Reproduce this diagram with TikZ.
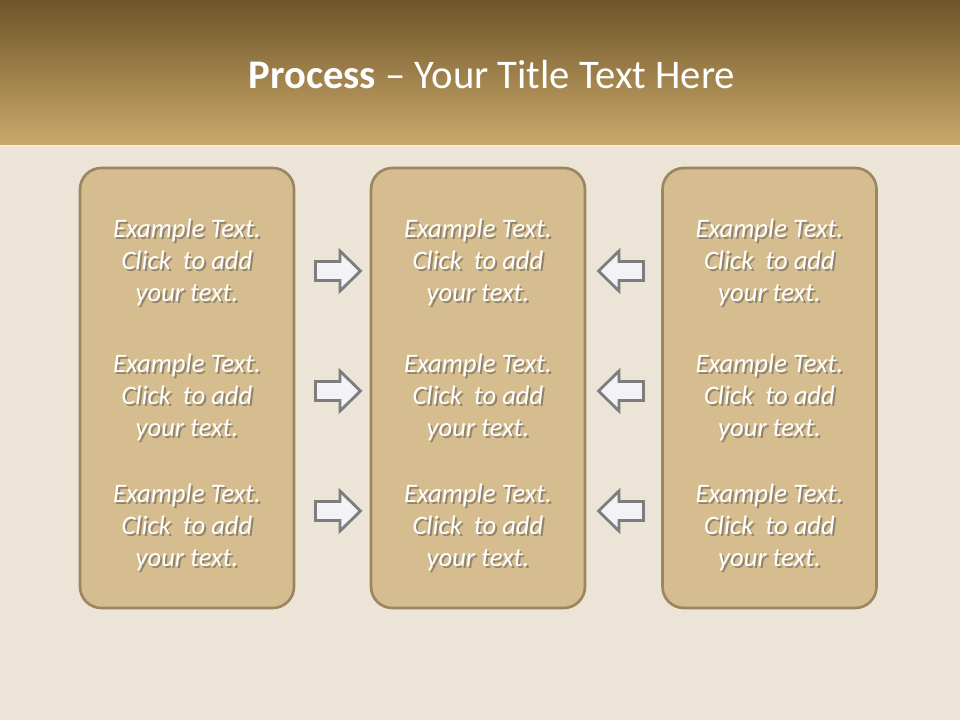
\documentclass[tikz,border=0pt]{standalone}
\usepackage{fontspec}
\setmainfont{Carlito}
\definecolor{bgcream}{RGB}{236,229,215}
\definecolor{headtop}{RGB}{110,85,40}
\definecolor{headbot}{RGB}{203,169,108}
\definecolor{boxfill}{RGB}{214,189,143}
\definecolor{boxline}{RGB}{156,134,96}
\definecolor{arrowfill}{RGB}{243,243,247}
\definecolor{arrowline}{RGB}{125,125,125}
\newcommand{\exampletext}{Example Text.\\Click\ \ to add\\your text.}
\tikzset{
  panel/.style={draw=boxline,line width=2pt,fill=boxfill,rounded corners=16pt,
    minimum width=160.5pt,minimum height=330pt,inner sep=0pt},
  bodytext/.style={align=center,text=white,font=\fontsize{20}{24}\selectfont\itshape},
  bodyshadow/.style={bodytext,text=black!75,opacity=0.45},
  flowarrow/.style={draw=arrowline,fill=arrowfill,line width=2.1pt,line join=miter},
  pics/blockarrow/.style={code={
    \draw[flowarrow] (-22.5,-9.5) -- (2,-9.5) -- (2,-20) -- (22.5,0)
      -- (2,20) -- (2,9.5) -- (-22.5,9.5) -- cycle;}}
}
\begin{document}
\begin{tikzpicture}[x=0.75pt,y=-0.75pt]
\fill[bgcream] (0,0) rectangle (960,720);
\useasboundingbox (0,0) rectangle (960,720);
\shade[top color=headtop,bottom color=headbot] (0,0) rectangle (960,145);
\draw[white!85!headbot,line width=1pt] (0,145.5) -- (960,145.5);
\node[text=white,font=\fontsize{30.5}{36}\selectfont] (title) at (492,75)
  {\textbf{Process} -- Your Title Text Here};
% three columns
\node[panel] (left) at (187,388) {};
\node[panel] (mid) at (478,388) {};
\node[panel] (right) at (769.5,388) {};
\foreach \col/\cx in {l/187,m/478,r/769.5}{
  \foreach \row/\cy in {1/262,2/397,3/527}{
    \node[bodyshadow] at (\cx+2,\cy+2.5) {\exampletext};
    \node[bodytext] (t\col\row) at (\cx,\cy) {\exampletext};
  }
}
% arrows towards the middle
\foreach \row/\cy in {1/271,2/391,3/511}{
  \pic (ra\row) at (338,\cy) {blockarrow};
  \pic[xscale=-1] (la\row) at (621,\cy) {blockarrow};
}
\end{tikzpicture}
\end{document}
